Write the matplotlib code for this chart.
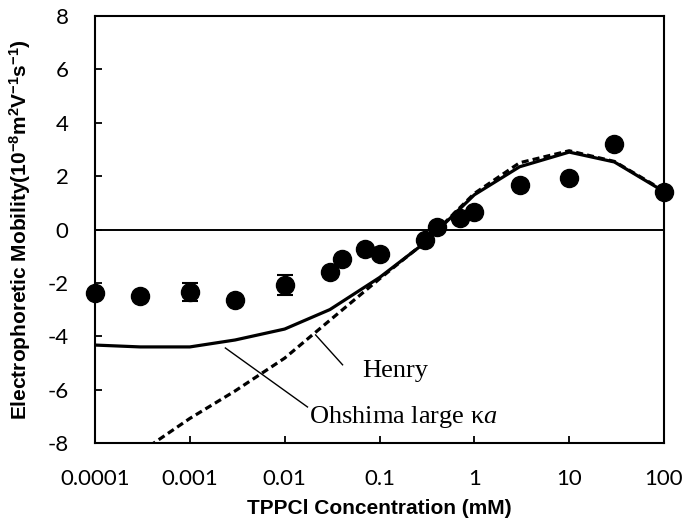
import numpy as np
import matplotlib
matplotlib.use("Agg")
import matplotlib.pyplot as plt

# ---------------- data ----------------
conc_meas = [0.0001, 0.0003, 0.001, 0.003, 0.01, 0.03, 0.04, 0.07, 0.1,
             0.3, 0.4, 0.7, 1, 3, 10, 30, 100]
mobility_meas = [-2.38, -2.49, -2.34, -2.64, -2.08, -1.59, -1.10, -0.73, -0.92,
                 -0.39, 0.09, 0.43, 0.66, 1.67, 1.93, 3.20, 1.40]
mobility_err = [0, 0, 0.33, 0, 0.37, 0, 0, 0, 0,
                0, 0, 0, 0, 0, 0, 0, 0]

conc_model = [0.0001, 0.0003, 0.001, 0.003, 0.01, 0.03, 0.1, 0.3, 1, 3, 10, 30, 100]
ohshima = [-4.33, -4.40, -4.40, -4.14, -3.73, -3.00, -1.80, -0.50, 1.30, 2.35, 2.90, 2.53, 1.42]
henry = [np.nan, -8.35, -7.08, -6.05, -4.82, -3.40, -1.85, -0.48, 1.35, 2.50, 2.95, 2.55, 1.45]

xticks = [0.0001, 0.001, 0.01, 0.1, 1, 10, 100]
xticklabels = ["0.0001", "0.001", "0.01", "0.1", "1", "10", "100"]
yticks = [-8, -6, -4, -2, 0, 2, 4, 6, 8]

# ---------------- style ----------------
plt.rcParams['axes.unicode_minus'] = False
plt.rcParams['mathtext.fontset'] = 'custom'
plt.rcParams['mathtext.rm'] = 'Liberation Sans'
plt.rcParams['mathtext.bf'] = 'Liberation Sans:bold'
plt.rcParams['mathtext.it'] = 'Liberation Serif:italic'

fig = plt.figure(figsize=(6.85, 5.28), dpi=100)
ax = fig.add_axes([95/685, (528-443)/528, (664-95)/685, (443-16)/528])

ax.set_xscale('log')
ax.set_xlim(1e-4, 100)
ax.set_ylim(-8, 8)

ax.axhline(0, color='black', lw=1.4, zorder=1)

ax.plot(conc_model, ohshima, color='black', lw=2.3, solid_joinstyle='round', zorder=3)
ax.plot(conc_model, henry, color='black', lw=2.3, linestyle=(0, (2.2, 1.3)), zorder=3)

ax.errorbar(conc_meas, mobility_meas, yerr=mobility_err, fmt='o', color='black',
            ms=13, ecolor='black', elinewidth=1.5, capsize=6, capthick=1.5,
            zorder=4, clip_on=False)

# annotations
ax.plot([0.0212, 0.0408], [-3.95, -5.07], color='black', lw=1.0, zorder=2)
ax.text(0.0664, -5.52, "Henry", family='Liberation Serif', fontsize=19,
        ha='left', va='baseline')
ax.plot([0.00237, 0.0174], [-4.44, -6.65], color='black', lw=1.0, zorder=2)
ax.text(0.0179, -7.25, "Ohshima large κ$a$", family='Liberation Serif', fontsize=19,
        ha='left', va='baseline')

# axes styling
for s in ax.spines.values():
    s.set_linewidth(1.5)
    s.set_color('black')

ax.set_xticks(xticks)
ax.set_xticklabels(xticklabels)
ax.xaxis.set_minor_locator(matplotlib.ticker.NullLocator())
ax.set_yticks(yticks)
ax.set_yticklabels([str(v) for v in yticks])
ax.tick_params(axis='both', direction='in', length=5, width=1.3, labelsize=16,
               colors='black')
ax.tick_params(axis='x', pad=19)
ax.tick_params(axis='y', pad=19)
for lab in ax.get_xticklabels() + ax.get_yticklabels():
    lab.set_family('Lato')

ax.set_xlabel("TPPCl Concentration (mM)", fontsize=15, fontweight='bold',
              family='Liberation Sans')
ax.xaxis.set_label_coords(0.5, -0.131)
ax.set_ylabel(r"Electrophoretic Mobility(10$^{\mathbf{-8}}$m$^{\mathbf{2}}$V$^{\mathbf{-1}}$s$^{\mathbf{-1}}$)",
              fontsize=15, fontweight='bold', family='Liberation Sans')
ax.yaxis.set_label_coords(-0.109, 0.5)

fig.savefig("out.png", dpi=100)
